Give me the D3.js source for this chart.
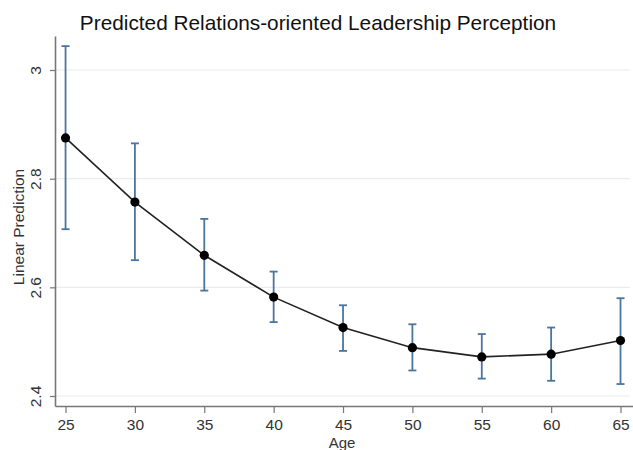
<!DOCTYPE html>
<html>
<head>
<meta charset="utf-8">
<script src="https://cdn.jsdelivr.net/npm/d3@7"></script>
<style>
  html, body { margin: 0; padding: 0; background: #fff; }
  svg { display: block; }
</style>
</head>
<body>
<svg id="chart" width="633" height="450"></svg>
<script>
// Predicted margins by age with 95% confidence intervals
const ages = [25, 30, 35, 40, 45, 50, 55, 60, 65];
const prediction = [2.875, 2.757, 2.659, 2.582, 2.526, 2.489, 2.472, 2.477, 2.502];
const ciLower = [2.707, 2.650, 2.594, 2.536, 2.483, 2.447, 2.432, 2.428, 2.422];
const ciUpper = [3.044, 2.865, 2.726, 2.629, 2.567, 2.532, 2.514, 2.526, 2.580];
const yTicks = [2.4, 2.6, 2.8, 3.0];
const xTicks = [25, 30, 35, 40, 45, 50, 55, 60, 65];

const rows = ages.map((a, i) => ({ age: a, p: prediction[i], lo: ciLower[i], hi: ciUpper[i] }));

const svg = d3.select("#chart");
const plotLeft = 55, plotRight = 633, plotTop = 36, plotBottom = 406;

const x = d3.scaleLinear().domain([24.24, 65.9]).range([plotLeft, plotRight]);
const y = d3.scaleLinear().domain([2.3816, 3.0626]).range([plotBottom, plotTop]);

const font = "Liberation Sans, Arial, sans-serif";

// Title
svg.append("text")
  .attr("x", 318).attr("y", 30)
  .attr("text-anchor", "middle")
  .attr("font-family", font)
  .attr("font-size", 20.8)
  .attr("fill", "#111")
  .text("Predicted Relations-oriented Leadership Perception");

// Horizontal grid
svg.append("g").selectAll("line").data(yTicks).join("line")
  .attr("x1", plotLeft + 1).attr("x2", 630)
  .attr("y1", d => y(d)).attr("y2", d => y(d))
  .attr("stroke", "#ececec").attr("stroke-width", 1.2);

// Y axis
const yAxis = svg.append("g")
  .attr("transform", `translate(${plotLeft},0)`)
  .call(d3.axisLeft(y).tickValues(yTicks).tickSize(5).tickSizeOuter(0)
    .tickFormat(d => d === 3 ? "3" : d3.format(".1f")(d)));
yAxis.select(".domain").attr("stroke", "#777").attr("stroke-width", 1.6);
yAxis.selectAll(".tick line").attr("stroke", "#777").attr("stroke-width", 1.2);
yAxis.selectAll(".tick text")
  .attr("font-family", font)
  .attr("font-size", 15.5).attr("fill", "#333")
  .attr("transform", "rotate(-90)")
  .attr("x", 0).attr("y", -14)
  .attr("dy", "0")
  .attr("text-anchor", "middle");

// X axis
const xAxis = svg.append("g")
  .attr("transform", `translate(0,${plotBottom})`)
  .call(d3.axisBottom(x).tickValues(xTicks).tickSize(7).tickSizeOuter(0));
xAxis.select(".domain").attr("stroke", "#777").attr("stroke-width", 1.6);
xAxis.selectAll(".tick line").attr("stroke", "#777").attr("stroke-width", 1.2);
xAxis.selectAll(".tick text")
  .attr("font-family", font)
  .attr("font-size", 15.5).attr("fill", "#333")
  .attr("y", 12.5);

// Axis titles
svg.append("text")
  .attr("transform", "translate(24,227) rotate(-90)")
  .attr("text-anchor", "middle")
  .attr("font-family", font)
  .attr("font-size", 15.5).attr("fill", "#333")
  .text("Linear Prediction");

svg.append("text")
  .attr("x", (plotLeft + plotRight) / 2 - 2).attr("y", 447.5)
  .attr("text-anchor", "middle")
  .attr("font-family", font)
  .attr("font-size", 15).attr("fill", "#333")
  .text("Age");

// Confidence intervals
const ciColor = "#4a75a0";
const ci = svg.append("g").attr("stroke", ciColor).attr("stroke-width", 1.8);
ci.selectAll(".v").data(rows).join("line")
  .attr("x1", d => x(d.age)).attr("x2", d => x(d.age))
  .attr("y1", d => y(d.lo)).attr("y2", d => y(d.hi));
ci.selectAll(".t").data(rows).join("line")
  .attr("x1", d => x(d.age) - 4).attr("x2", d => x(d.age) + 4)
  .attr("y1", d => y(d.hi)).attr("y2", d => y(d.hi));
ci.selectAll(".b").data(rows).join("line")
  .attr("x1", d => x(d.age) - 4).attr("x2", d => x(d.age) + 4)
  .attr("y1", d => y(d.lo)).attr("y2", d => y(d.lo));

// Prediction line and markers
svg.append("path")
  .datum(rows)
  .attr("fill", "none").attr("stroke", "#222").attr("stroke-width", 1.6)
  .attr("d", d3.line().x(d => x(d.age)).y(d => y(d.p)));

svg.append("g").selectAll("circle").data(rows).join("circle")
  .attr("cx", d => x(d.age)).attr("cy", d => y(d.p))
  .attr("r", 4.6).attr("fill", "#000");
</script>
</body>
</html>
